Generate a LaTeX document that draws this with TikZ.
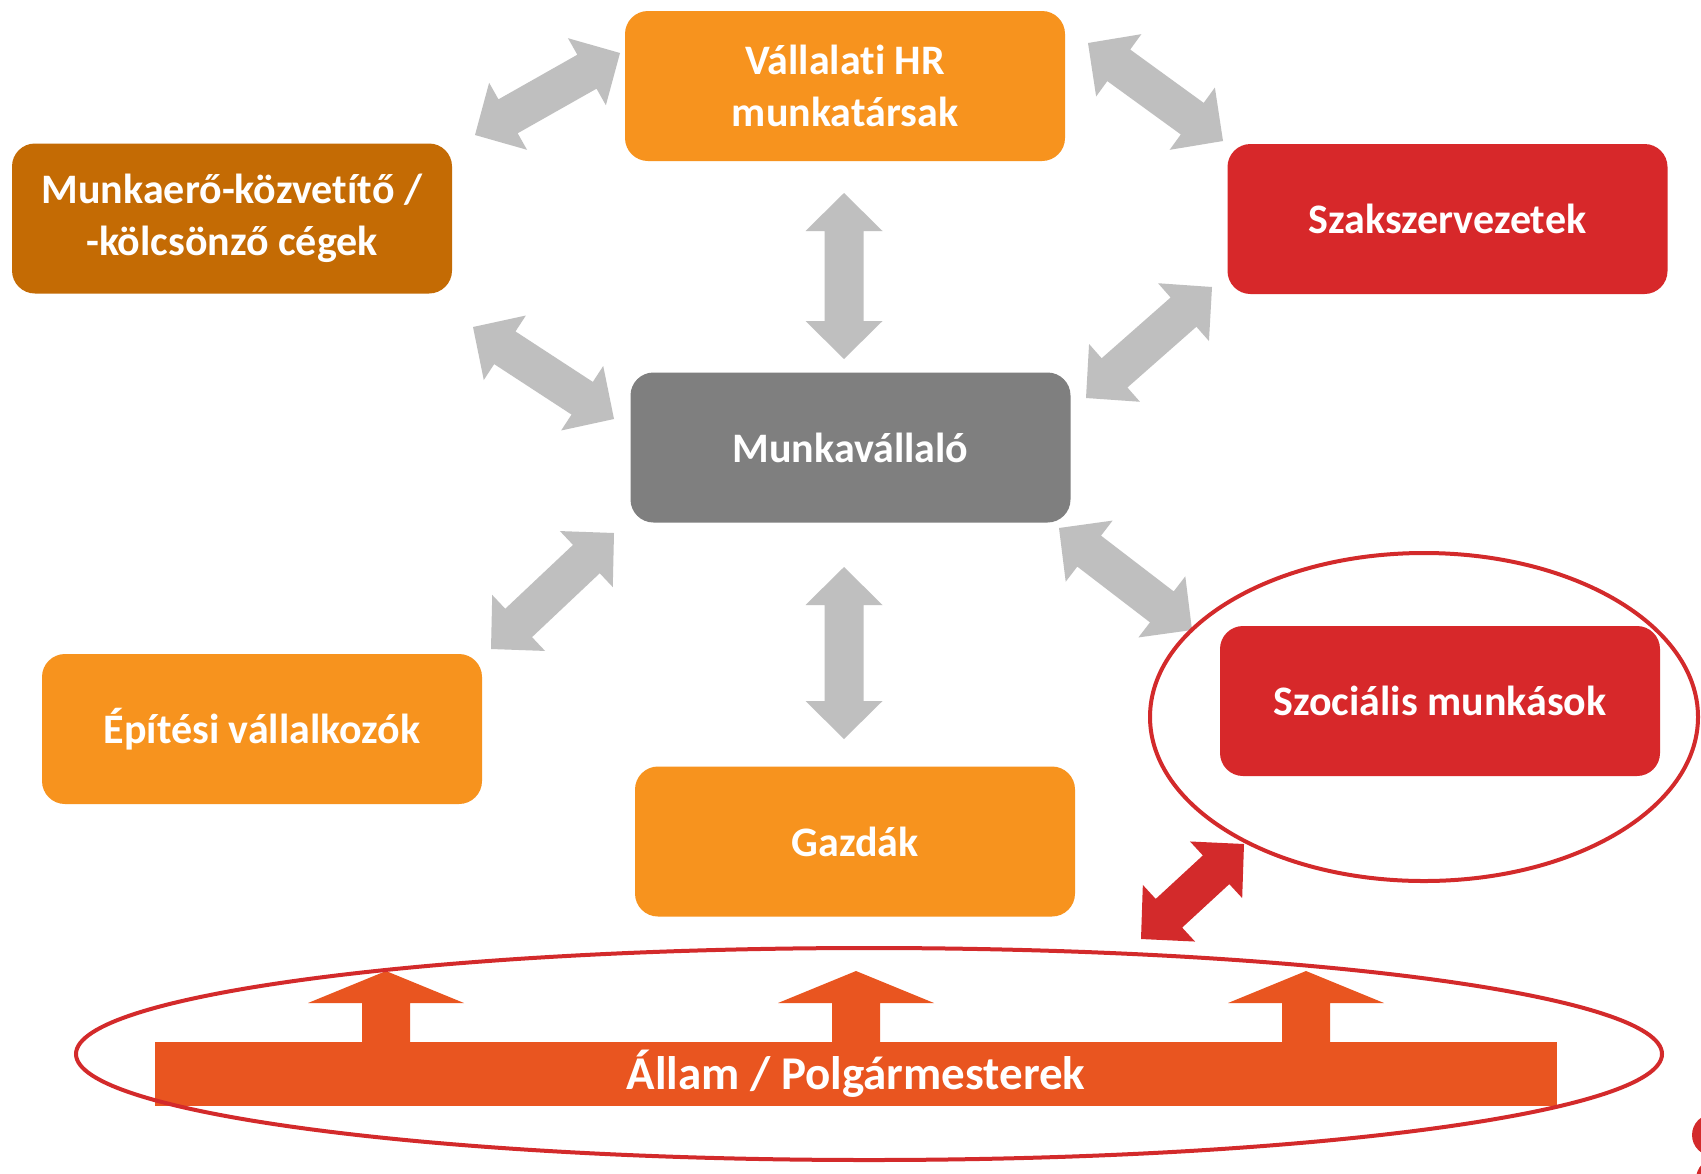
\documentclass[tikz,border=0pt]{standalone}
\usepackage{fontspec}
\setmainfont{Carlito}[Ligatures={NoCommon,NoRequired,NoContextual}]
\usetikzlibrary{calc}

\definecolor{boxorange}{HTML}{F7931E}
\definecolor{boxbrown}{HTML}{C46B04}
\definecolor{boxred}{HTML}{D7282A}
\definecolor{boxgrey}{HTML}{7F7F7F}
\definecolor{arrowgrey}{HTML}{BFBFBF}
\definecolor{barorange}{HTML}{E95520}
\definecolor{ringred}{HTML}{D32A2B}

\tikzset{
  actor/.style={rounded corners=11.5pt, minimum width=220pt, minimum height=75pt,
    inner sep=0pt, text=white, align=center,
    font=\bfseries\fontsize{21}{26}\selectfont},
  ring/.style={draw=ringred, line width=2pt},
}

% block double arrow between two named tips, drawn in the given colour
\newcommand{\twoway}[3]{%
  \coordinate (ha) at ($(#1)!19pt!(#2)$);
  \coordinate (hb) at ($(#2)!19pt!(#1)$);
  \fill[#3] (#1) -- ($(ha)!19.25pt!90:(#2)$) -- ($(ha)!9.75pt!90:(#2)$)
    -- ($(hb)!9.75pt!-90:(#1)$) -- ($(hb)!19.25pt!-90:(#1)$) -- (#2)
    -- ($(hb)!19.25pt!90:(#1)$) -- ($(hb)!9.75pt!90:(#1)$)
    -- ($(ha)!9.75pt!-90:(#2)$) -- ($(ha)!19.25pt!-90:(#2)$) -- cycle;
}

\begin{document}
\begin{tikzpicture}[x=0.5pt, y=-0.5pt]
  \useasboundingbox (0,0) rectangle (1701,1173);
  \clip (0,0) rectangle (1701,1173);
  \fill[white] (0,0) rectangle (1701,1173);

  % actors
  \node[actor, fill=boxorange] (hr)    at (845,86)    {Vállalat\kern0pt i HR\\munkatársak};
  \node[actor, fill=boxbrown]  (agency) at (232,218.5) {Munkaerő-közvet\kern0pt ít\kern0pt ő /\\-kölcsönző cégek};
  \node[actor, fill=boxred]    (union) at (1447.5,219) {Szakszervezetek};
  \node[actor, fill=boxgrey]   (worker) at (850.5,447.5) {Munkavállaló};
  \node[actor, fill=boxorange] (build) at (262,729)   {Építési vállalkozók};
  \node[actor, fill=boxred]    (social) at (1440,701) {Szociális munkások};
  \node[actor, fill=boxorange] (farm)  at (855,841.5) {Gazdák};

  % arrow tips
  \coordinate (a1) at (475,135);   \coordinate (b1) at (620,53);
  \coordinate (a2) at (1088,43);   \coordinate (b2) at (1223,141);
  \coordinate (a3) at (473,327);   \coordinate (b3) at (614,419);
  \coordinate (a4) at (1212,287);  \coordinate (b4) at (1086,398);
  \coordinate (a5) at (614,533);   \coordinate (b5) at (491,649);
  \coordinate (a6) at (1059,528);  \coordinate (b6) at (1192,630);
  \coordinate (a7) at (844,193);   \coordinate (b7) at (844,359);
  \coordinate (a8) at (844,567);   \coordinate (b8) at (844,739);
  \coordinate (a9) at (1141,939);  \coordinate (b9) at (1244,844);

  \twoway{a1}{b1}{arrowgrey}
  \twoway{a2}{b2}{arrowgrey}
  \twoway{a3}{b3}{arrowgrey}
  \twoway{a4}{b4}{arrowgrey}
  \twoway{a5}{b5}{arrowgrey}
  \twoway{a6}{b6}{arrowgrey}
  \twoway{a7}{b7}{arrowgrey}
  \twoway{a8}{b8}{arrowgrey}
  \twoway{a9}{b9}{ringred}

  % state bar with upward arrows
  \foreach \x in {386,856,1306}
    \fill[barorange] ({\x-24},1044) -- ({\x-24},1003) -- ({\x-78},1003)
      -- (\x,971) -- ({\x+78},1003) -- ({\x+24},1003) -- ({\x+24},1044) -- cycle;
  \node[fill=barorange, minimum width=701pt, minimum height=32pt, inner sep=0pt,
    text=white, font=\bfseries\fontsize{23.5}{28}\selectfont] (state) at (856,1074)
    {Állam / Polgármesterek};

  % highlight rings
  \draw[ring] (1424,717) ellipse [x radius=137pt, y radius=82pt];
  \draw[ring] (869,1054) ellipse [x radius=396.5pt, y radius=53pt];

  % corner mark
  \fill[ringred] (1713,1135) circle [radius=10.5pt];
  \fill[ringred] (1717,1179) circle [radius=10.5pt];
\end{tikzpicture}
\end{document}
